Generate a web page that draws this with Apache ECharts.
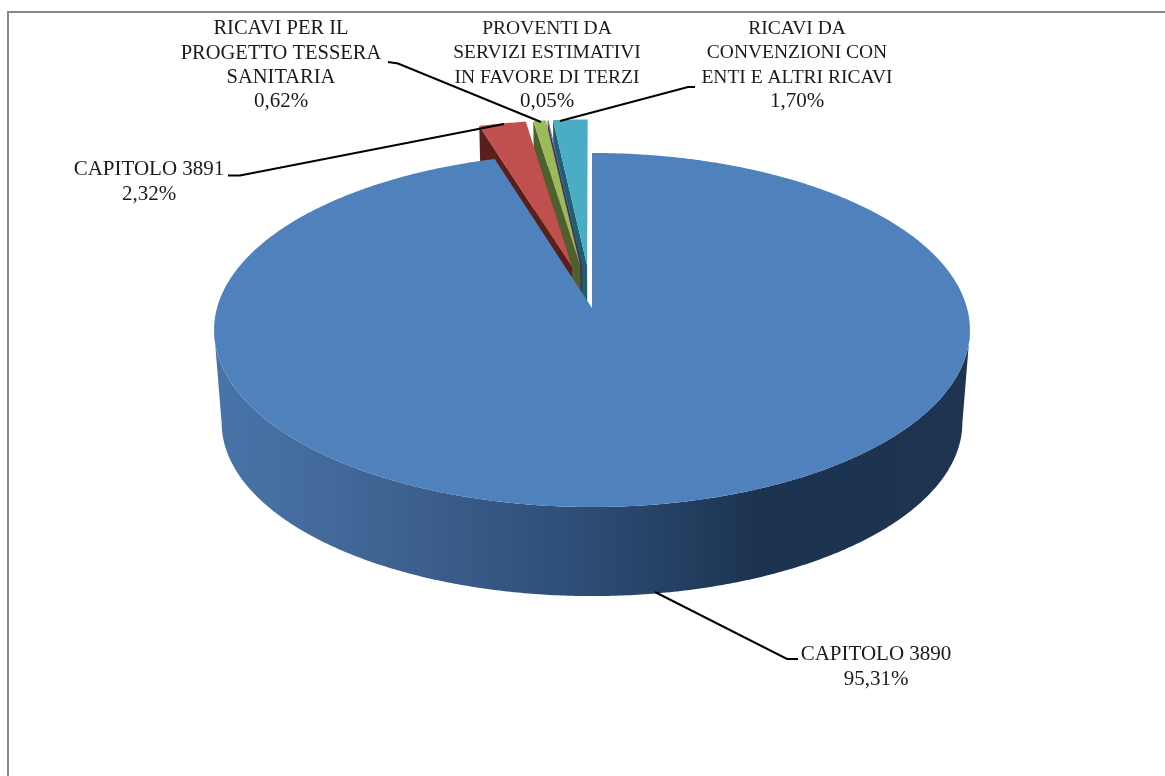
<!DOCTYPE html>
<html>
<head>
<meta charset="utf-8">
<style>html,body{margin:0;padding:0;background:#fff}#c{width:1165px;height:776px}</style>
<script src="https://cdn.jsdelivr.net/npm/echarts@6/dist/echarts.min.js"></script>
</head>
<body>
<div id="c"></div>
<script>
// ---- data ----
const categories = [
  "CAPITOLO 3890",
  "CAPITOLO 3891",
  "RICAVI PER IL\nPROGETTO TESSERA\nSANITARIA",
  "PROVENTI DA\nSERVIZI ESTIMATIVI\nIN FAVORE DI TERZI",
  "RICAVI DA\nCONVENZIONI CON\nENTI E ALTRI RICAVI"
];
const shares = [95.31, 2.32, 0.62, 0.05, 1.70];

// ---- styles ----
const topColors  = ["#4F81BD", "#C0504D", "#9BBB59", "#8064A2", "#4BACC6"];
const wallColors = ["#2c4c74", "#5a1f1d", "#4f5f2d", "#40325a", "#1f6070"];
const explode    = [0, 0.25, 0.25, 0.25, 0.25];
const nameSizes  = [21, 21, 20.5, 19.5, 19.5];
const PERCENT_SIZE = 21;
const LINE_H = 24.3;

// ---- layout of the labels and their leader lines ----
const labelAnchors = [[876, 667], [149, 182], [281, 65.5], [547, 65.5], [797, 65.5]];
const leaderLines = [
  [[655, 592], [787, 659], [798, 659]],
  [[228, 175.5], [240, 175.5], [504, 124]],
  [[388, 62], [398, 63.5], [541, 122]],
  null,
  [[695, 87], [688, 87], [560, 121]]
];

// ---- projection of the 3D disc ----
const CX = 592, CY = 308, A = 375, B = 174.3, K = 0.1243;
const FLOOR_SCALE = 0.98, FLOOR_DROP = 93;

function project(u, v, floor) {
  const w = 1 - K * v;
  let x = A * u / w, y = B * v / w;
  if (floor) { x *= FLOOR_SCALE; y = y * FLOOR_SCALE + FLOOR_DROP; }
  return [CX + x, CY + y];
}
function rim(deg, off, floor) {
  const r = deg * Math.PI / 180;
  return project(Math.sin(r) + off[0], -Math.cos(r) + off[1], floor);
}
function arc(from, to, off, floor) {
  const n = Math.max(2, Math.ceil(Math.abs(to - from) / 0.5)), pts = [];
  for (let i = 0; i <= n; i++) pts.push(rim(from + (to - from) * i / n, off, floor));
  return pts;
}
// the angle at which the rim reaches furthest to the right: where the silhouette runs
function silhouetteAngle() {
  let best = 90, bestX = -Infinity;
  for (let d = 60; d <= 130; d += 0.25) {
    const x = rim(d, [0, 0], false)[0];
    if (x > bestX) { bestX = x; best = d; }
  }
  return best;
}

const total = shares.reduce((a, b) => a + b, 0);
function startAngle(i) {
  let s = 0;
  for (let j = 0; j < i; j++) s += shares[j];
  return s / total * 360;
}

function renderSlice(params, api) {
  const i = api.value(1);
  const a0 = startAngle(i), a1 = a0 + api.value(0) / total * 360;
  const mid = (a0 + a1) / 2 * Math.PI / 180;
  const off = [explode[i] * Math.sin(mid), -explode[i] * Math.cos(mid)];
  // painted from the right to the left, the large slice last
  const z = i === 0 ? 20 : (5 - i) * 2;
  const children = [];
  const apexTop = project(off[0], off[1], false);
  const apexFloor = project(off[0], off[1], true);

  if (i === 0) {
    const s = silhouetteAngle();
    children.push({
      type: 'polygon', z2: z,
      shape: { points: arc(s, 360 - s, off, false).concat(arc(360 - s, s, off, true)) },
      style: {
        fill: new echarts.graphic.LinearGradient(0, 0, 1, 0, [
          { offset: 0, color: '#4874a8' },
          { offset: 0.15, color: '#44699b' },
          { offset: 0.5, color: '#2c4c74' },
          { offset: 0.72, color: '#1c3350' },
          { offset: 1, color: '#1e3450' }
        ])
      }
    });
  } else {
    children.push({
      type: 'polygon', z2: z,
      shape: { points: [apexTop, rim(a0, off, false), rim(a0, off, true), apexFloor] },
      style: { fill: wallColors[i] }
    });
  }
  children.push({
    type: 'polygon', z2: z + 1,
    shape: { points: [apexTop].concat(arc(a0, a1, off, false)) },
    style: { fill: topColors[i] }
  });
  // label
  const pct = api.value(0).toFixed(2).replace('.', ',') + '%';
  const lines = categories[i].split('\n').map(l => '{n|' + l + '}');
  lines.push('{p|' + pct + '}');
  const font = '"Liberation Serif","Times New Roman",serif';
  children.push({
    type: 'text', z2: 40,
    style: {
      x: labelAnchors[i][0], y: labelAnchors[i][1],
      text: lines.join('\n'),
      align: 'center', verticalAlign: 'middle',
      rich: {
        n: { fontFamily: font, fontSize: nameSizes[i], lineHeight: LINE_H, fill: '#1a1a1a', align: 'center' },
        p: { fontFamily: font, fontSize: PERCENT_SIZE, lineHeight: LINE_H, fill: '#1a1a1a', align: 'center' }
      }
    }
  });
  if (leaderLines[i]) {
    children.push({
      type: 'polyline', z2: 30,
      shape: { points: leaderLines[i] },
      style: { stroke: '#000', lineWidth: 2, fill: null }
    });
  }
  return { type: 'group', children };
}

const chart = echarts.init(document.getElementById('c'), null, { renderer: 'canvas' });
chart.setOption({
  animation: false,
  backgroundColor: '#fff',
  graphic: [{
    type: 'rect', silent: true, z: -1,
    shape: { x: 8, y: 12, width: 1300, height: 900 },
    style: { fill: '#fff', stroke: '#868686', lineWidth: 2 }
  }],
  series: [{
    type: 'custom',
    coordinateSystem: 'none',
    renderItem: renderSlice,
    dimensions: ['share', 'index'],
    data: shares.map((v, i) => ({ name: categories[i], value: [v, i] })),
    encode: { value: 0 }
  }]
});
</script>
</body>
</html>
